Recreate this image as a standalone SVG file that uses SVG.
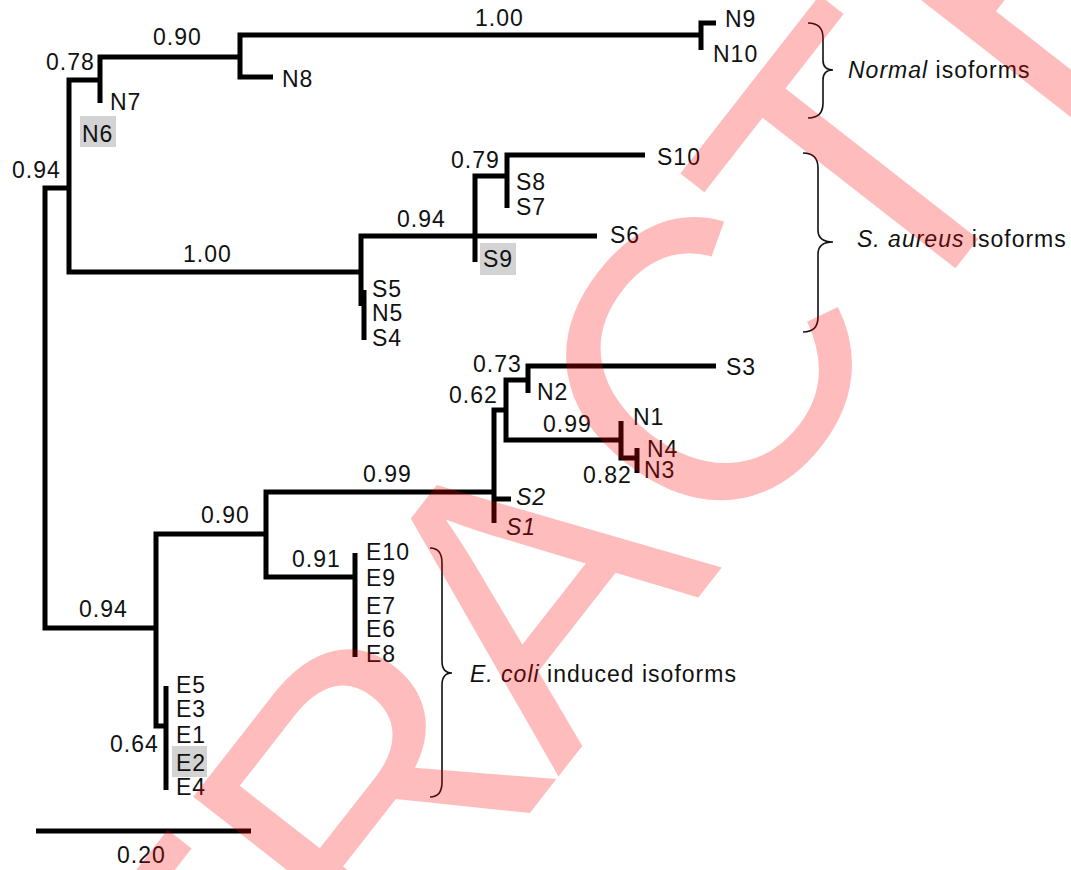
<svg xmlns="http://www.w3.org/2000/svg" width="1071" height="870" viewBox="0 0 1071 870">
<style>
  text { font-family: "Liberation Sans", Arial, sans-serif; font-size: 23px; letter-spacing: 1px; fill: #111; }
  .br { fill: none; stroke: #000; stroke-width: 5; stroke-linejoin: miter; stroke-linecap: butt; }
  .brace { fill: none; stroke: #111; stroke-width: 1.6; }
  .hl { fill: #d3d3d3; }
  .it { font-style: italic; }
</style>
<rect width="1071" height="870" fill="#fff"/>

<g id="connectors">
  <path class="br" d="M69,188 H45 V628 H156"/>
  <path class="br" d="M100,80 H69 V272 H361"/>
  <path class="br" d="M240,57 H100 V103"/>
  <path class="br" d="M701,35 H240 V77 H273"/>
  <path class="br" d="M716,23 H701 V50"/>
  <path class="br" d="M475,236 H361 V306"/>
  <path class="br" d="M364,290 V340"/>
  <path class="br" d="M507,176 H475 V262"/>
  <path class="br" d="M475,236 H597"/>
  <path class="br" d="M645,155 H507 V208"/>
  <path class="br" d="M266,534 H156 V726 H166"/>
  <path class="br" d="M494,492 H266 V577 H355"/>
  <path class="br" d="M355,553 V657"/>
  <path class="br" d="M166,686 V790"/>
  <path class="br" d="M506,410 H494 V523"/>
  <path class="br" d="M494,499 H511"/>
  <path class="br" d="M528,380 H506 V440 H621"/>
  <path class="br" d="M716,366 H528 V393"/>
  <path class="br" d="M621,421 V458 H637"/>
  <path class="br" d="M637,448 V473"/>
</g>

<g id="support-values">
  <text x="12" y="178">0.94</text>
  <text x="46" y="70">0.78</text>
  <text x="153" y="45">0.90</text>
  <text x="475" y="26">1.00</text>
  <text x="183" y="262">1.00</text>
  <text x="397" y="227">0.94</text>
  <text x="451" y="168">0.79</text>
  <text x="473" y="372">0.73</text>
  <text x="449" y="403">0.62</text>
  <text x="543" y="432">0.99</text>
  <text x="583" y="483">0.82</text>
  <text x="363" y="482">0.99</text>
  <text x="201" y="523">0.90</text>
  <text x="292" y="567">0.91</text>
  <text x="79" y="617">0.94</text>
  <text x="110" y="752">0.64</text>
</g>

<g id="N9"><text x="725" y="27">N9</text></g>
<g id="N10"><text x="713" y="62">N10</text></g>
<g id="N8"><text x="282" y="87">N8</text></g>
<g id="N7"><text x="110" y="110">N7</text></g>
<g id="N6"><rect class="hl" x="80" y="116" width="36" height="31"/><text x="82" y="142">N6</text></g>
<g id="S10"><text x="657" y="165">S10</text></g>
<g id="S8"><text x="516" y="190">S8</text></g>
<g id="S7"><text x="516" y="215">S7</text></g>
<g id="S6"><text x="610" y="243">S6</text></g>
<g id="S9"><rect class="hl" x="480" y="243" width="36" height="32"/><text x="483" y="267">S9</text></g>
<g id="S5"><text x="372" y="297">S5</text></g>
<g id="N5"><text x="372" y="321">N5</text></g>
<g id="S4"><text x="372" y="346">S4</text></g>
<g id="S3"><text x="726" y="375">S3</text></g>
<g id="N2"><text x="537" y="400">N2</text></g>
<g id="N1"><text x="633" y="425">N1</text></g>
<g id="N4"><text x="647" y="457">N4</text></g>
<g id="N3"><text x="644" y="478">N3</text></g>
<g id="S2"><text class="it" x="516" y="505">S2</text></g>
<g id="S1"><text class="it" x="506" y="535">S1</text></g>
<g id="E10"><text x="366" y="560">E10</text></g>
<g id="E9"><text x="366" y="586">E9</text></g>
<g id="E7"><text x="366" y="614">E7</text></g>
<g id="E6"><text x="366" y="637">E6</text></g>
<g id="E8"><text x="366" y="662">E8</text></g>
<g id="E5"><text x="176" y="693">E5</text></g>
<g id="E3"><text x="176" y="717">E3</text></g>
<g id="E1"><text x="176" y="743">E1</text></g>
<g id="E2"><rect class="hl" x="172" y="746" width="35" height="31"/><text x="176" y="771">E2</text></g>
<g id="E4"><text x="176" y="795">E4</text></g>

<g id="group-normal">
  <path class="brace" d="M808,23 Q823,23 823,38 L823,60 Q823,70 833,70 Q823,70 823,80 L823,103 Q823,118 808,118"/>
  <text x="848" y="78"><tspan class="it">Normal</tspan> isoforms</text>
</g>
<g id="group-saureus">
  <path class="brace" d="M803,153 Q818,153 818,168 L818,230 Q818,242 833,242 Q818,242 818,254 L818,317 Q818,332 803,332"/>
  <text x="857" y="247"><tspan class="it">S. aureus</tspan> isoforms</text>
</g>
<g id="group-ecoli">
  <path class="brace" d="M430,548 Q442,548 442,563 L442,661 Q442,673 452,673 Q442,673 442,685 L442,782 Q442,797 430,797"/>
  <text x="470" y="682"><tspan class="it">E. coli</tspan> induced isoforms</text>
</g>

<g id="scale-bar">
  <path class="br" d="M36,831 H251"/>
  <text x="117" y="863">0.20</text>
</g>

<g id="watermark" opacity="0.26" transform="translate(558,777) rotate(-52)">
  <text x="-1073 -784 -517 -273 0 269 542 803 1070" y="0" style="font-size:400px;letter-spacing:0;fill:#ff0000">RETRACTED</text>
</g>
</svg>
